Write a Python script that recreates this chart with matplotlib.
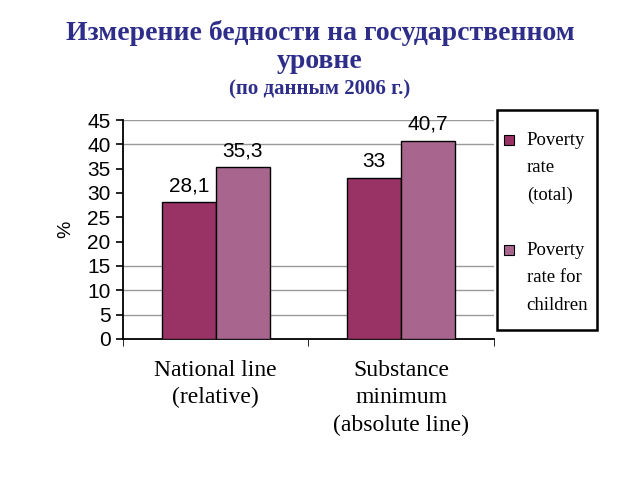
import numpy as np
from matplotlib import pyplot as plt
from matplotlib.patches import Rectangle

categories = ["National line\n(relative)", "Substance\nminimum\n(absolute line)"]
series_names = ["Poverty\nrate\n(total)", "Poverty\nrate for\nchildren"]
total = [28.1, 33.0]
children = [35.3, 40.7]
value_labels = [["28,1", "33"], ["35,3", "40,7"]]
y_ticks = [0, 5, 10, 15, 20, 25, 30, 35, 40, 45]
grid_levels = [5, 10, 15, 40, 45]

colors = ["#993366", "#A8668F"]
title_color = "#2E2E8A"

fig = plt.figure(figsize=(6.4, 4.8), dpi=100)
ax = fig.add_axes([0.192, 0.294, 0.580, 0.456])

x = np.arange(len(categories))
width = 0.29

for i, values in enumerate([total, children]):
    pos = x + (i - 0.5) * width
    ax.bar(pos, values, width, color=colors[i], edgecolor="black", linewidth=1.0, zorder=3)
    for px, v, lab in zip(pos, values, value_labels[i]):
        ax.annotate(lab, (px, v), xytext=(0, 5), textcoords="offset points",
                    ha="center", va="bottom", fontsize=15, family="Liberation Sans", zorder=4)

# gridlines, only the ones that show in the original
for g in grid_levels:
    ax.axhline(g, color="#999999", linewidth=1.0, zorder=1)

ax.set_xlim(-0.5, 1.5)
ax.set_ylim(0, 45)
ax.set_yticks(y_ticks)
ax.set_yticklabels([str(t) for t in y_ticks], fontsize=15, family="Liberation Sans")
ax.set_xticks(x)
ax.set_xticklabels(categories, fontsize=17, family="Liberation Serif", linespacing=1.4)
ax.set_xticks([-0.5, 0.5, 1.5], minor=True)
ax.tick_params(axis="x", which="major", length=0, pad=15)
ax.tick_params(axis="x", which="minor", length=5, direction="out")
ax.tick_params(axis="y", length=5, direction="out", width=1.2, pad=4)
ax.set_ylabel("%", fontsize=14, family="Liberation Sans", labelpad=9)

for side in ["top", "right"]:
    ax.spines[side].set_visible(False)
ax.spines["left"].set_linewidth(1.3)
ax.spines["bottom"].set_linewidth(1.3)

# Title
fig.text(0.5, 0.931, "Измерение бедности на государственном", ha="center", va="center",
         fontsize=20, fontweight="bold", family="Liberation Serif", color=title_color)
fig.text(0.5, 0.871, "уровне", ha="center", va="center",
         fontsize=20, fontweight="bold", family="Liberation Serif", color=title_color)
fig.text(0.5, 0.813, "(по данным 2006 г.)", ha="center", va="center",
         fontsize=15, fontweight="bold", family="Liberation Serif", color=title_color)

# Legend box
fig.patches.append(Rectangle((0.777, 0.3125), 0.156, 0.458, transform=fig.transFigure,
                             fill=False, edgecolor="black", linewidth=1.8))
legend_y = [0.708, 0.479]
for i, name in enumerate(series_names):
    fig.patches.append(Rectangle((0.7875, legend_y[i] - 0.011), 0.0155, 0.021, transform=fig.transFigure,
                                 facecolor=colors[i], edgecolor="black", linewidth=0.8))
    fig.text(0.823, legend_y[i] + 0.017, name, ha="left", va="top", fontsize=13.5,
             family="Liberation Serif", linespacing=1.8)

plt.savefig("out.png", dpi=100)
